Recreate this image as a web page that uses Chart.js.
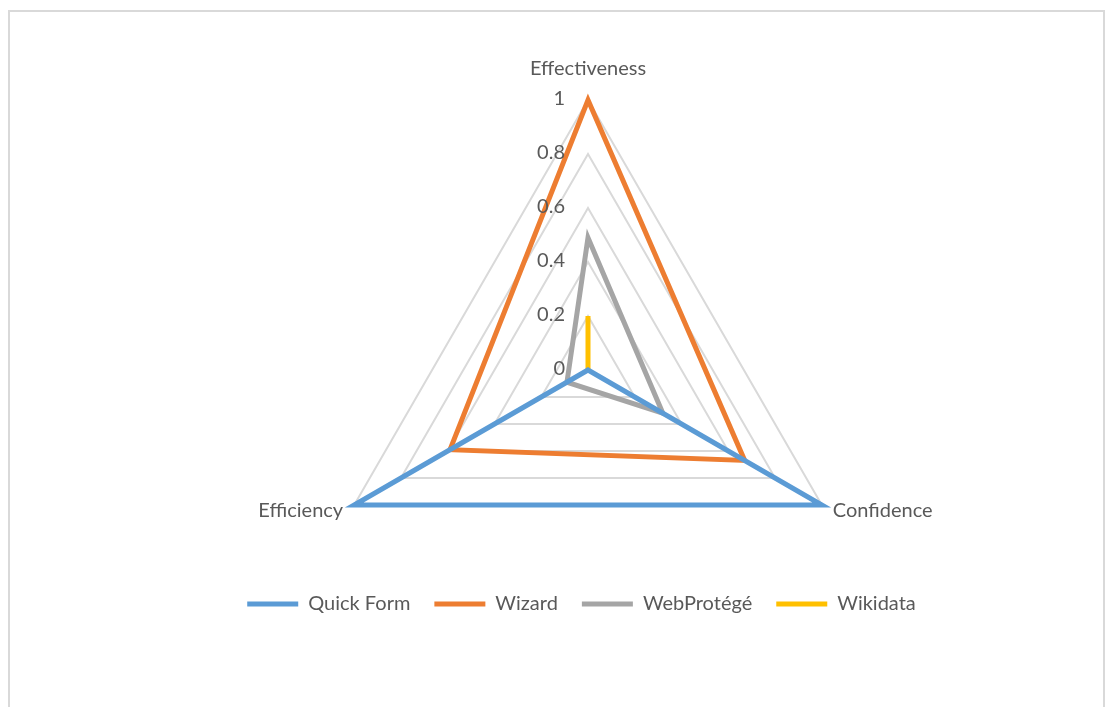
<!DOCTYPE html>
<html>
<head>
<meta charset="utf-8">
<script src="https://cdn.jsdelivr.net/npm/chart.js@4/dist/chart.umd.min.js"></script>
<style>
  body { margin: 0; background: #fff; }
  #frame { position: absolute; left: 8px; top: 10px; width: 1093px; height: 700px;
           border: 2px solid #d9d9d9; border-bottom: none; }
  #radar { position: absolute; left: 0; top: 0; }
</style>
</head>
<body>
<div id="frame"></div>
<canvas id="radar" width="1111" height="624"></canvas>
<script>
// radar data
const axisLabels = ["Effectiveness", "Confidence", "Efficiency"];
const quickForm = [0, 1, 1];
const wizard = [1, 0.67, 0.59];
const webProtege = [0.49, 0.32, 0.09];
const wikidata = [0.2, 0, 0];
const tickValues = [0, 0.2, 0.4, 0.6, 0.8, 1];
const tickLabels = ["0", "0.2", "0.4", "0.6", "0.8", "1"];

// plot area layout (Excel puts the plot a bit right of centre)
const CX = 588, CY = 370, RADIUS = 270;
const textColor = "#595959";
const fontFamily = "Lato, 'Open Sans', sans-serif";

function series(label, values, color) {
    return {
        label: label,
        data: values,
        borderColor: color,
        backgroundColor: color,
        borderWidth: 5,
        borderCapStyle: "round",
        borderJoinStyle: "miter",
        pointRadius: 0,
        fill: false
    };
}

// tick labels sit left of the vertical axis, point labels outside the corners
const radarText = {
    id: "radarText",
    afterDraw(chart) {
        const s = chart.scales.r;
        const ctx = chart.ctx;
        ctx.save();
        ctx.fillStyle = textColor;
        ctx.font = "20px " + fontFamily;
        ctx.textAlign = "right";
        ctx.textBaseline = "middle";
        for (let i = 0; i < tickValues.length; i++) {
            let y = s.yCenter - s.getDistanceFromCenterForValue(tickValues[i]);
            ctx.fillText(tickLabels[i], s.xCenter - 23, y - 1);
        }
        for (let i = 0; i < axisLabels.length; i++) {
            let p = s.getPointPosition(i, s.drawingArea);
            if (Math.abs(p.x - s.xCenter) < 1) {
                ctx.textAlign = "center";
                ctx.fillText(axisLabels[i], p.x, p.y - 31);
            } else if (p.x > s.xCenter) {
                ctx.textAlign = "left";
                ctx.fillText(axisLabels[i], p.x + 11, p.y + 6);
            } else {
                ctx.textAlign = "right";
                ctx.fillText(axisLabels[i], p.x - 11, p.y + 6);
            }
        }
        ctx.restore();
    }
};

new Chart(document.getElementById("radar"), {
    type: "radar",
    data: {
        labels: axisLabels,
        datasets: [
            series("Quick Form", quickForm, "#5B9BD5"),
            series("Wizard", wizard, "#ED7D31"),
            series("WebProtégé", webProtege, "#A5A5A5"),
            series("Wikidata", wikidata, "#FFC000")
        ]
    },
    options: {
        responsive: false,
        animation: false,
        layout: { padding: { left: 52 } },
        plugins: {
            tooltip: { enabled: false },
            legend: {
                position: "bottom",
                labels: {
                    usePointStyle: true,
                    pointStyle: "line",
                    pointStyleWidth: 51,
                    padding: 24,
                    color: textColor,
                    font: { family: fontFamily, size: 20 }
                }
            }
        },
        scales: {
            r: {
                min: 0,
                max: 1,
                ticks: { stepSize: 0.2, display: false },
                grid: { color: "#D9D9D9", lineWidth: 2 },
                angleLines: { display: false },
                pointLabels: { display: false },
                afterFit: function (s) {
                    s.xCenter = CX;
                    s.yCenter = CY;
                    s.drawingArea = RADIUS;
                }
            }
        }
    },
    plugins: [radarText]
});
</script>
</body>
</html>
